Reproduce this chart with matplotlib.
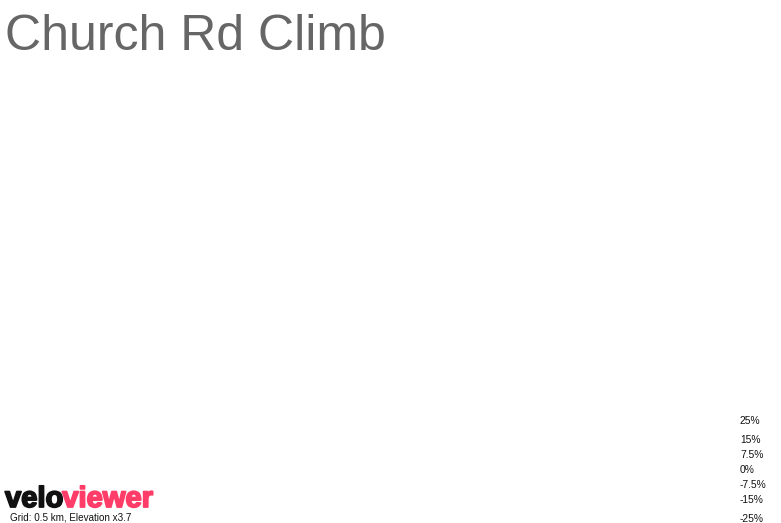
import matplotlib.pyplot as plt
import matplotlib.patheffects as pe

# chart texts
title = "Church Rd Climb"
logo_parts = ["velo", "viewer"]
logo_colors = ["#111111", "#ff3d68"]
footer = "Grid: 0.5 km, Elevation x3.7"

# gradient legend (label, baseline y in pixels from top)
grad_labels = ["25%", "15%", "7.5%", "0%", "-7.5%", "-15%", "-25%"]
grad_y = [424, 443, 458, 473, 488, 503, 522]

W, H = 781, 523
plt.rcParams['font.family'] = ['Liberation Sans', 'DejaVu Sans']

fig = plt.figure(figsize=(W / 100, H / 100), dpi=100)
fig.patch.set_facecolor("white")

def px(x, y):
    return x / W, 1 - y / H

# title
fig.text(*px(5, 50), title, fontsize=36, color="#666666", va="baseline", ha="left")

# logo (bold, thickened with a stroke)
t = fig.text(*px(5, 507), logo_parts[0], fontsize=21, fontweight="bold",
             color=logo_colors[0], va="baseline", ha="left",
             path_effects=[pe.withStroke(linewidth=1.3, foreground=logo_colors[0])])
fig.canvas.draw()
bb = t.get_window_extent()
fig.text(bb.x1 / W - 1.0 / W, 1 - 507 / H, logo_parts[1], fontsize=21, fontweight="bold",
         color=logo_colors[1], va="baseline", ha="left",
         path_effects=[pe.withStroke(linewidth=1.3, foreground=logo_colors[1])])

# footer
fig.text(*px(10, 520), footer, fontsize=7.1, color="#111111", va="baseline", ha="left")

# gradient legend
for lab, y in zip(grad_labels, grad_y):
    fig.text(*px(740, y), lab, fontsize=7.4, color="#111111", va="baseline", ha="left")

fig.savefig("out.png", dpi=100, facecolor="white")
